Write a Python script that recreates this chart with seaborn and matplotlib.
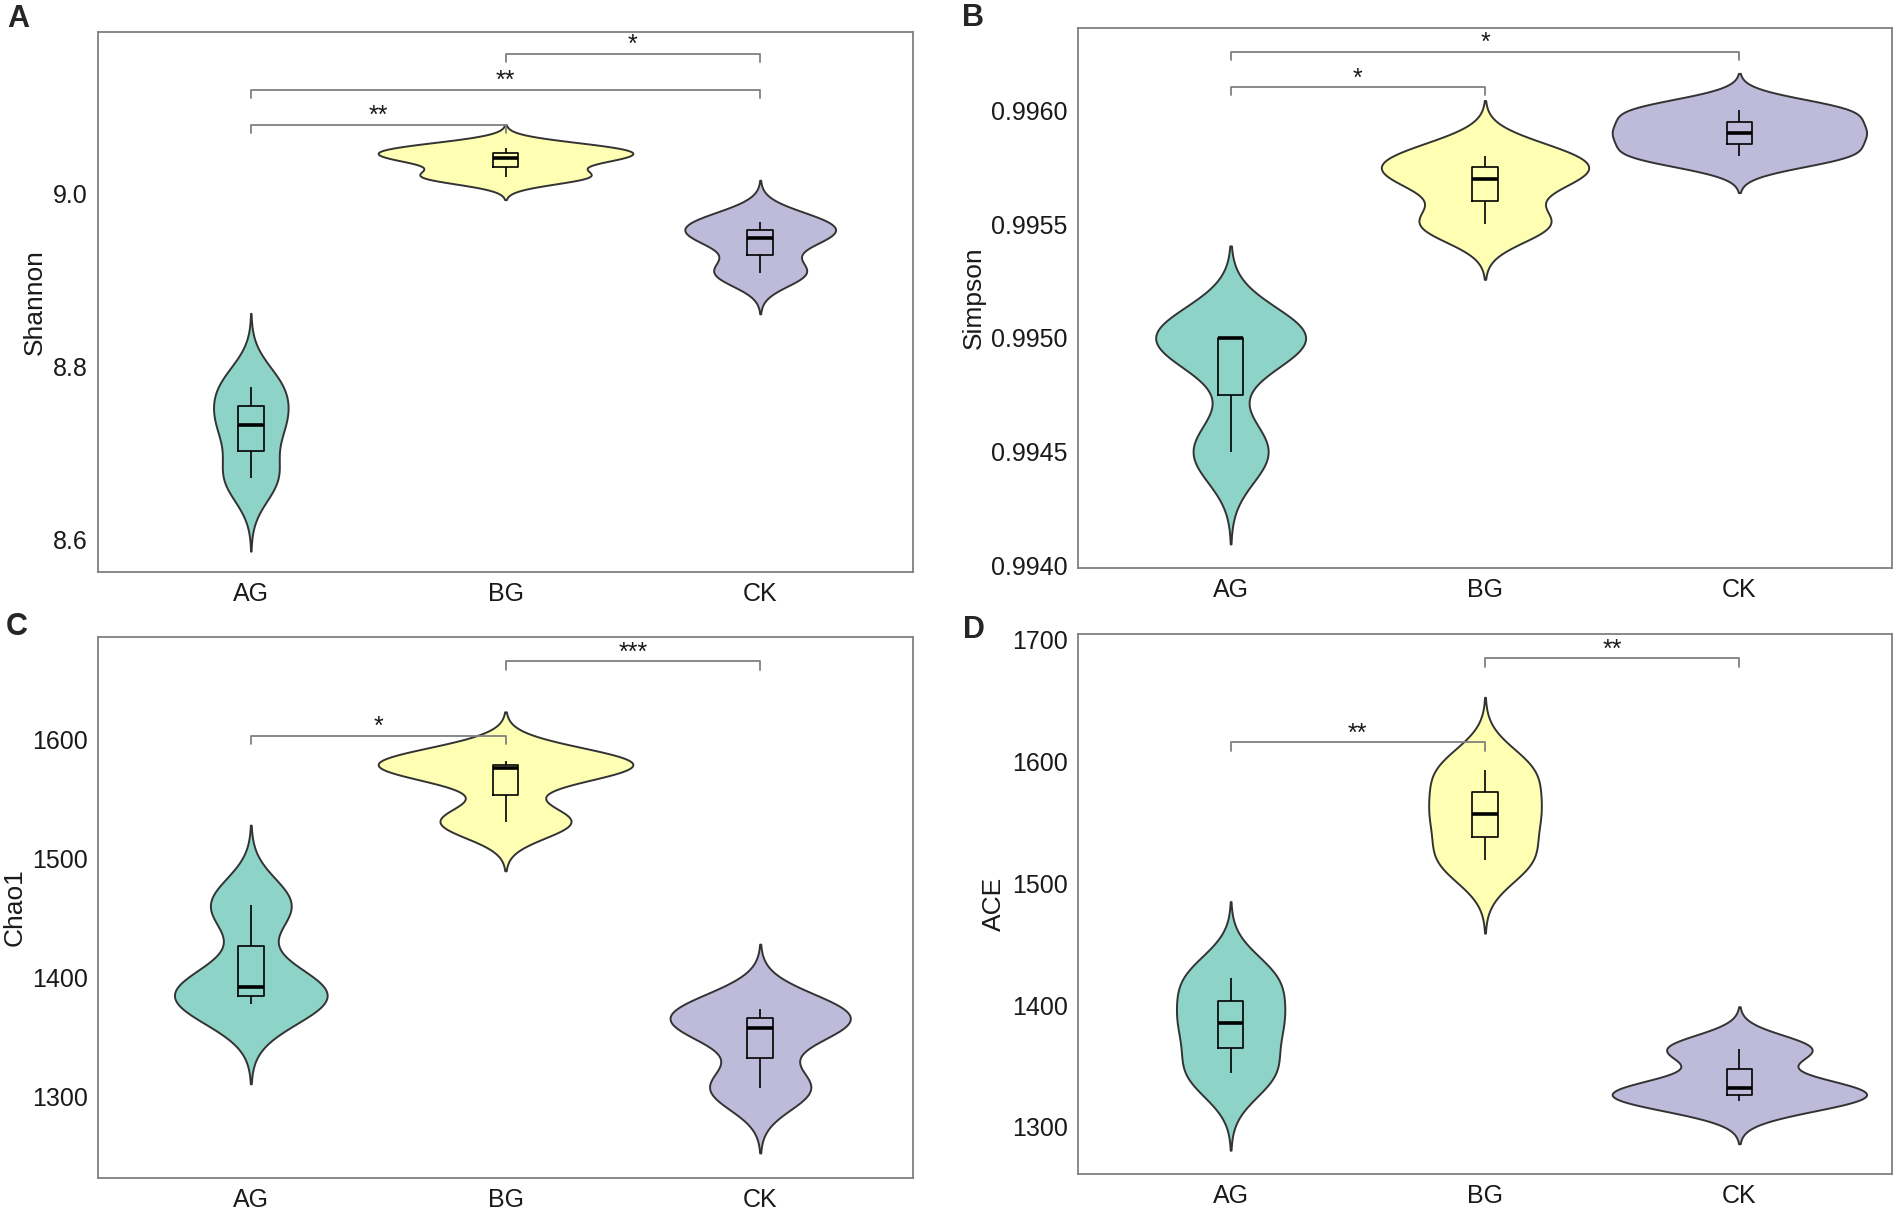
import numpy as np
import pandas as pd
import seaborn as sns
import matplotlib.pyplot as plt

# groups and colours (Set3-like)
groups = ["AG", "BG", "CK"]
colors = ["#8DD3C7", "#FFFFB3", "#BEBADA"]

# three samples per group
shannon = [[8.672, 8.733, 8.777], [9.020, 9.041, 9.053], [8.909, 8.9495, 8.968]]
simpson = [[0.9945, 0.9950, 0.9950], [0.9955, 0.9957, 0.9958], [0.9958, 0.9959, 0.9960]]
chao1 = [[1378, 1392, 1461], [1531, 1576, 1582], [1307, 1358, 1374]]
ace = [[1344, 1385, 1422], [1519, 1557, 1593], [1321, 1332, 1364]]

# significance brackets: (group i, group j, height, label)
sig_shannon = [(0, 1, 9.080, "**"), (0, 2, 9.1205, "**"), (1, 2, 9.162, "*")]
sig_simpson = [(0, 1, 0.996103, "*"), (0, 2, 0.996257, "*")]
sig_chao1 = [(0, 1, 1603.3, "*"), (1, 2, 1665.6, "***")]
sig_ace = [(0, 1, 1616.1, "**"), (1, 2, 1684.8, "**")]

ticks_shannon = [8.6, 8.8, 9.0]
ticks_simpson = [0.9940, 0.9945, 0.9950, 0.9955, 0.9960]
ticks_chao1 = [1300, 1400, 1500, 1600]
ticks_ace = [1300, 1400, 1500, 1600, 1700]


def nrd0(kde):
    # R's default bandwidth (bw.nrd0) expressed as a scipy factor
    x = kde.dataset[0]
    sd = x.std(ddof=1)
    q75, q25 = np.percentile(x, [75, 25])
    lo = min(sd, (q75 - q25) / 1.34)
    return 0.9 * lo * len(x) ** -0.2 / sd


def panel(ax, values, name, sig, ylim, yticks, fmt):
    df = pd.DataFrame({
        "group": np.repeat(groups, [len(v) for v in values]),
        name: np.concatenate(values),
    })
    sns.violinplot(data=df, x="group", y=name, hue="group", order=groups,
                   hue_order=groups, palette=colors, saturation=1,
                   legend=False, inner=None, cut=3, bw_method=nrd0,
                   density_norm="area", common_norm=True, width=1.0,
                   linewidth=1.4, linecolor="#333333", gridsize=300, ax=ax)
    sns.boxplot(data=df, x="group", y=name, order=groups, width=0.1,
                fill=False, color="black", whis=np.inf, showcaps=False,
                linewidth=1.2, medianprops={"linewidth": 2.6}, ax=ax)

    tip = 0.016 * (ylim[1] - ylim[0])
    for i, j, y, lab in sig:
        ax.plot([i, i, j, j], [y - tip, y, y, y - tip], color="#808080",
                lw=1.3, clip_on=False)
        ax.annotate(lab, ((i + j) / 2, y), xytext=(0, 1),
                    textcoords="offset points", ha="center", va="baseline",
                    fontsize=18, color="#1a1a1a")

    ax.set_xlim(-0.6, 2.6)
    ax.set_ylim(*ylim)
    ax.set_yticks(yticks)
    ax.set_yticklabels([fmt.format(t) for t in yticks])
    ax.set_xlabel("")
    ax.set_ylabel(name, fontsize=19, labelpad=4, color="#1a1a1a")
    ax.tick_params(axis="both", length=4, width=1.2, color="#808080",
                   labelsize=18, labelcolor="#1a1a1a", pad=3.5)
    for s in ax.spines.values():
        s.set_visible(True)
        s.set_color("#808080")
        s.set_linewidth(1.3)


sns.set_theme(style="white")
plt.rcParams["font.family"] = ["Liberation Sans", "DejaVu Sans"]

W, H = 1901, 1212
fig = plt.figure(figsize=(W / 100, H / 100), dpi=100)


def rect(l, t, r, b):
    return [l / W, 1 - b / H, (r - l) / W, (b - t) / H]


axA = fig.add_axes(rect(98, 32, 913, 572))
axB = fig.add_axes(rect(1078, 28, 1892, 568))
axC = fig.add_axes(rect(98, 637, 913, 1178))
axD = fig.add_axes(rect(1078, 634, 1892, 1174))

panel(axA, shannon, "Shannon", sig_shannon, (8.563, 9.187), ticks_shannon, "{:.1f}")
panel(axB, simpson, "Simpson", sig_simpson, (0.993990, 0.996361), ticks_simpson, "{:.4f}")
panel(axC, chao1, "Chao1", sig_chao1, (1231.8, 1686.1), ticks_chao1, "{:.0f}")
panel(axD, ace, "ACE", sig_ace, (1261.4, 1704.8), ticks_ace, "{:.0f}")

for lab, x, y in [("A", 7, 19), ("B", 962, 18), ("C", 6, 627), ("D", 963, 630)]:
    fig.text(x / W, 1 - y / H, lab, fontsize=22, fontweight="bold",
             ha="left", va="center")

fig.savefig("out.png", dpi=100)
